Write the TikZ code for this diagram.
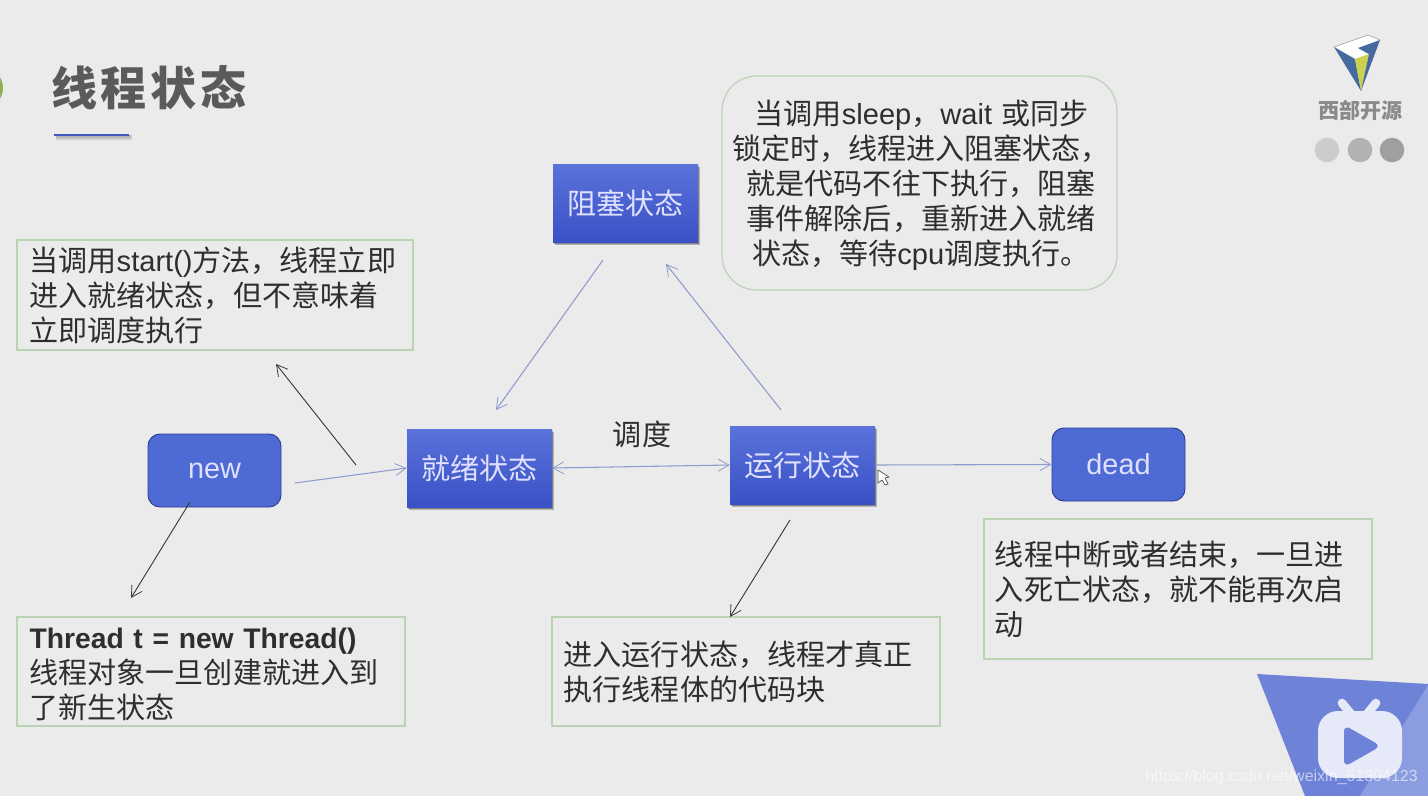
\documentclass[tikz,border=0pt]{standalone}
\usepackage{fontspec}
\setmainfont{Noto Sans CJK SC}
\newfontfamily\latfont{Liberation Sans}
\newcommand{\lat}[1]{{\latfont #1}}
\usetikzlibrary{arrows.meta,shadows}
\definecolor{bg}{HTML}{EBEBEB}
\definecolor{boxline}{HTML}{B9D3B4}
\definecolor{inktext}{HTML}{2E2E2E}
\definecolor{flowline}{HTML}{8D9BCF}
\definecolor{blackline}{HTML}{3A3A3A}
\definecolor{bluetop}{HTML}{5A72DA}
\definecolor{bluebot}{HTML}{3A51C6}
\definecolor{roundblue}{HTML}{4E6AD4}
\definecolor{biliblue}{HTML}{6E83D8}
\definecolor{bililight}{HTML}{8C9CE0}
\definecolor{biliicon}{HTML}{E6EAF8}
\definecolor{titlegray}{HTML}{5A5A5A}
\definecolor{leafgreen}{HTML}{8FAE50}
\definecolor{logoblue}{HTML}{466A9E}
\definecolor{logoyellow}{HTML}{CBD04E}
\definecolor{brandgray}{HTML}{8A8A8A}
\tikzset{
  softshadow/.style={
    drop shadow={shadow xshift=1.6pt,shadow yshift=-2.4pt,opacity=.10,fill=black},
    drop shadow={shadow xshift=1.2pt,shadow yshift=-1.9pt,opacity=.16,fill=black},
    drop shadow={shadow xshift=0.8pt,shadow yshift=-1.3pt,opacity=.25,fill=black}},
  statebox/.style={draw=none,top color=bluetop,bottom color=bluebot,text=white!88!blue,
    minimum width=108.75pt,minimum height=58.5pt,inner sep=0pt,
    font=\fontsize{21.8}{26}\selectfont,softshadow},
  roundbox/.style={draw=bluebot!75!black,line width=.7pt,fill=roundblue,rounded corners=9pt,text=white!88!blue,
    minimum width=99.75pt,minimum height=54.75pt,inner sep=0pt,
    font=\latfont\fontsize{21.6}{26}\selectfont},
  notebox/.style={draw=boxline,line width=.9pt,align=left,inner xsep=8.2pt,inner ysep=0pt,text=inktext,
    font=\fontsize{21.8}{26.25}\selectfont},
  flow/.style={draw=flowline,line width=.8pt,-{Straight Barb[length=8pt,width=9pt,line width=.6pt]}},
  flowboth/.style={draw=flowline,line width=.8pt,{Straight Barb[length=8pt,width=9pt,line width=.6pt]}-{Straight Barb[length=8pt,width=9pt,line width=.6pt]}},
  pointer/.style={draw=blackline,line width=.7pt,-{Straight Barb[length=8pt,width=9pt,line width=.6pt]}}
}
\begin{document}
\begin{tikzpicture}[x=0.75pt,y=-0.75pt]
\useasboundingbox (0,0) rectangle (1428,796);
\fill[bg] (0,0) rectangle (1428,796);
% title
\fill[leafgreen] (-18,88) circle (21);
\node[text=titlegray,font=\fontsize{34.5}{40}\bfseries\selectfont,inner sep=0pt] (title) at (149,88) {线\hspace{3pt}程\hspace{3pt}状\hspace{3pt}态};
\fill[black,opacity=.12] (56,135) rectangle (132,140);
\fill[black,opacity=.12] (56,135) rectangle (131,138);
\draw[draw=bluebot!85!gray,line width=1.4pt] (54,135) -- (129,135);
% logo
\fill[white] (1334,47) -- (1368,35) -- (1380,40) -- (1358,49) -- (1369,55) -- (1355,59) -- cycle;
\draw[gray!70,line width=.5pt] (1334,47) -- (1368,35) -- (1380,40);
\fill[logoblue] (1334,47) -- (1355,59) -- (1361,91) -- cycle;
\fill[logoyellow] (1355,59) -- (1369,54) -- (1361,91) -- cycle;
\fill[logoblue] (1380,40) -- (1361,91) -- (1369,54) -- (1358,48) -- cycle;
\node[text=brandgray,font=\fontsize{15.75}{18}\bfseries\selectfont,inner sep=0pt] (brand) at (1360,110) {西部开源};
\fill[gray!40] (1327,150) circle (12.3);
\fill[gray!60] (1360,150) circle (12.3);
\fill[gray!75] (1392,150) circle (12.3);
% bilibili corner
\fill[biliblue] (1257,674) -- (1428,684) -- (1428,796) -- (1305,796) -- cycle;
\fill[bililight] (1428,685) -- (1360,796) -- (1428,796) -- cycle;
\draw[biliicon,line width=6.5pt,line cap=round] (1342,703) -- (1351,714);
\draw[biliicon,line width=6.5pt,line cap=round] (1376,703) -- (1367,714);
\fill[biliicon,rounded corners=15pt] (1318,711) rectangle (1402,778);
\fill[biliblue,rounded corners=5pt] (1344,725) -- (1381,746) -- (1344,767) -- cycle;
% notes
\node[notebox,inner xsep=9.4pt,text width=278.2pt,minimum height=82.5pt] (n1) at (215,295) {当调用\lat{start()}方法，线程立即\\进入就绪状态，但不意味着\\立即调度执行};
\node[notebox,inner xsep=9.4pt,text width=272.2pt,minimum height=81.75pt] (n2) at (211,671.5) {\rule{0pt}{19pt}{\fontsize{21.2}{26.25}\selectfont\textbf{\lat{Thread t = new Thread()}}}\\线程对象一旦创建就进入到\\了新生状态};
\node[notebox,inner xsep=8.8pt,text width=273.4pt,minimum height=81.75pt] (n3) at (746,671.5) {进入运行状态，线程才真正\\执行线程体的代码块};
\node[notebox,text width=274.6pt,minimum height=105pt] (n4) at (1178,589) {线程中断或者结束，一旦进\\入死亡状态，就不能再次启\\动};
\node[notebox,rounded corners=26pt,text width=296.25pt,minimum height=160.5pt,inner xsep=0pt] (n5) at (919.5,183)
 {\rule{0pt}{21.5pt}\hspace*{24.5pt}当调用\lat{sleep}，\lat{wait} 或同步\\\hspace*{7.5pt}锁定时，线程进入阻塞状态，\\\hspace*{18.5pt}就是代码不往下执行，阻塞\\\hspace*{18.5pt}事件解除后，重新进入就绪\\\hspace*{22.5pt}状态，等待\lat{cpu}调度执行。};
% states
\node[statebox] (blocked) at (625.5,203) {阻塞状态};
\node[statebox] (ready) at (479.5,468) {就绪状态};
\node[statebox] (running) at (802.5,465) {运行状态};
\node[roundbox] (new) at (214.5,470.5) {new};
\node[roundbox] (dead) at (1118.5,464.5) {dead};
\node[inner sep=0pt,text=inktext,font=\fontsize{21.8}{26}\selectfont] (sched) at (642,434) {调度};
% free ends
\coordinate (newOut) at (295,483);
\coordinate (blockedOut) at (603,260);
\coordinate (readyIn) at (496,410);
\coordinate (runOut) at (781,410);
\coordinate (blockedIn) at (666,264);
\coordinate (p1a) at (356,465);
\coordinate (p1b) at (276,364);
\coordinate (p2a) at (190,502);
\coordinate (p2b) at (131,598);
\coordinate (p3a) at (790,520);
\coordinate (p3b) at (730,617);
% connectors
\draw[flow] (newOut) -- (ready.west);
\draw[flowboth] (ready.east) -- (running.west);
\draw[flow] (running.east) -- (dead.west);
\draw[flow] (blockedOut) -- (readyIn);
\draw[flow] (runOut) -- (blockedIn);
\draw[pointer] (p1a) -- (p1b);
\draw[pointer] (p2a) -- (p2b);
\draw[pointer] (p3a) -- (p3b);
% cursor
\draw[fill=white,draw=gray!60!black,line width=.5pt] (878,470) -- (878,483) -- (882,480) -- (885,485) -- (888,484) -- (885,478) -- (889,477) -- cycle;
% watermark
\node[anchor=east,inner sep=0pt,text=white,opacity=.6,font=\latfont\fontsize{12}{14}\selectfont] (wm) at (1418,777) {https://blog.csdn.net/weixin\_51304123};
\end{tikzpicture}
\end{document}
